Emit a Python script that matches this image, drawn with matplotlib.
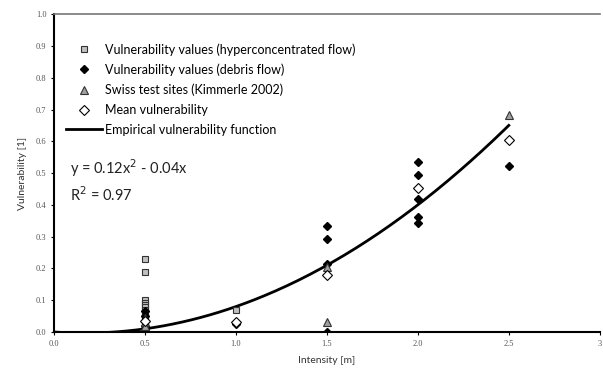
import numpy as np
import matplotlib
matplotlib.use('Agg')
import matplotlib.pyplot as plt

# ── Data ─────────────────────────────────────────────────────────────────────
hyper_x = [0.5] * 14 + [1.0]
hyper_y = [0.23, 0.19, 0.10, 0.09, 0.085, 0.08, 0.07, 0.06, 0.05, 0.04,
           0.03, 0.02, 0.01, 0.005, 0.07]

debris_x = [0.5] * 6 + [1.0] * 2 + [1.5] * 4 + [2.0] * 5 + [2.5]
debris_y = [0.065, 0.05, 0.035, 0.02, 0.01, 0.0,
            0.032, 0.025,
            0.335, 0.292, 0.215, 0.0,
            0.536, 0.494, 0.419, 0.362, 0.344,
            0.522]

swiss_x = [0.5, 0.5, 0.5, 1.5, 1.5, 2.5]
swiss_y = [0.045, 0.03, 0.02, 0.205, 0.032, 0.682]

mean_x = [0.5, 1.0, 1.5, 2.0, 2.5]
mean_y = [0.035, 0.03, 0.18, 0.453, 0.603]

# empirical vulnerability function y = a*x^2 + b*x
coef_a = 0.12
coef_b = -0.04
x_max_fit = 2.5

x_ticks = [0.0, 0.5, 1.0, 1.5, 2.0, 2.5, 3.0]
x_tick_labels = ['0.0', '0.5', '1.0', '1.5', '2.0', '2.5', '3']
y_ticks = [0.0, 0.1, 0.2, 0.3, 0.4, 0.5, 0.6, 0.7, 0.8, 0.9, 1.0]

SANS = ['Lato', 'DejaVu Sans']
SERIF = 'Liberation Serif'

# ── Figure ───────────────────────────────────────────────────────────────────
fig = plt.figure(figsize=(6.03, 3.70), dpi=100)
ax = fig.add_axes([0.0896, 0.1027, 0.905, 0.859])

xs = np.linspace(0, x_max_fit, 200)
ax.plot(xs, coef_a * xs**2 + coef_b * xs, '-', color='black', linewidth=2.0,
        label='Empirical vulnerability function', zorder=2)

ax.plot(hyper_x, hyper_y, 's', markersize=5, markerfacecolor='#c0c0c0',
        markeredgecolor='#333333', markeredgewidth=0.8, linestyle='none',
        label='Vulnerability values (hyperconcentrated flow)', zorder=3)
ax.plot(debris_x, debris_y, 'D', markersize=4.5, color='black', linestyle='none',
        label='Vulnerability values (debris flow)', zorder=4)
ax.plot(swiss_x, swiss_y, '^', markersize=5.5, markerfacecolor='#a0a0a0',
        markeredgecolor='#333333', markeredgewidth=0.8, linestyle='none',
        label='Swiss test sites (Kimmerle 2002)', zorder=5)
ax.plot(mean_x, mean_y, 'D', markersize=5, markerfacecolor='white',
        markeredgecolor='black', markeredgewidth=0.8, linestyle='none',
        label='Mean vulnerability', zorder=6)

ax.set_xlim(0, 3.0)
ax.set_ylim(0, 1.0)
ax.set_xticks(x_ticks)
ax.set_xticklabels(x_tick_labels)
ax.set_yticks(y_ticks)
ax.set_yticklabels([f'{v:.1f}' for v in y_ticks])
ax.tick_params(direction='out', length=2.5, width=0.8, labelsize=6,
               colors='black', labelcolor='#555555', pad=3)
for lab in ax.get_xticklabels() + ax.get_yticklabels():
    lab.set_family(SERIF)

ax.set_xlabel('Intensity [m]', fontsize=7.5, family=SANS, color='#333333', labelpad=6)
ax.set_ylabel('Vulnerability [1]', fontsize=7.5, family=SANS, color='#333333', labelpad=6)

ax.spines['right'].set_visible(False)
ax.spines['top'].set_color('#777777')
ax.spines['top'].set_linewidth(1.2)
ax.spines['left'].set_linewidth(1.5)
ax.spines['bottom'].set_linewidth(1.5)

handles, labels = ax.get_legend_handles_labels()
order = [1, 2, 3, 4, 0]
ax.legend([handles[i] for i in order], [labels[i] for i in order],
          loc='upper left', bbox_to_anchor=(0.012, 0.925), frameon=False,
          prop={'family': SANS, 'size': 9}, handlelength=2.9,
          handletextpad=0.25, labelspacing=0.62, borderaxespad=0)

ax.text(0.03, 0.497, 'y = 0.12x$^2$ - 0.04x', transform=ax.transAxes,
        fontsize=10.5, family=SANS, color='#222222')
ax.text(0.03, 0.412, 'R$^2$ = 0.97', transform=ax.transAxes,
        fontsize=10.5, family=SANS, color='#222222')

plt.savefig('out.png', dpi=100)
plt.close()
